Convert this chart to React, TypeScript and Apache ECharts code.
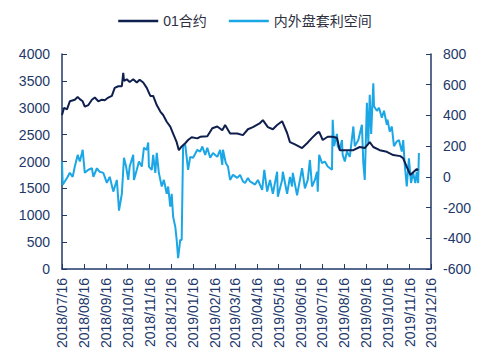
import React, { useEffect, useRef } from "react";
import * as echarts from "echarts";

const legendNames = ["01合约", "内外盘套利空间"];

const leftAxis = { min: 0, max: 4000, interval: 500 };
const rightAxis = { min: -600, max: 800, interval: 200 };

const mainDates = [
  "2018/07/16", "2018/07/19", "2018/07/23", "2018/07/27", "2018/08/03", "2018/08/07", "2018/08/10", "2018/08/14",
  "2018/08/17", "2018/08/22", "2018/08/27", "2018/08/31", "2018/09/05", "2018/09/10", "2018/09/14", "2018/09/19",
  "2018/09/24", "2018/09/28", "2018/10/03", "2018/10/08", "2018/10/10", "2018/10/11", "2018/10/15", "2018/10/19",
  "2018/10/24", "2018/10/29", "2018/11/02", "2018/11/07", "2018/11/12", "2018/11/17", "2018/11/21", "2018/11/26",
  "2018/12/01", "2018/12/05", "2018/12/10", "2018/12/15", "2018/12/19", "2018/12/24", "2018/12/27", "2018/12/31",
  "2019/01/05", "2019/01/09", "2019/01/14", "2019/01/22", "2019/01/26", "2019/02/05", "2019/02/12", "2019/02/19",
  "2019/02/26", "2019/03/02", "2019/03/09", "2019/03/19", "2019/03/27", "2019/04/03", "2019/04/10", "2019/04/20",
  "2019/04/24", "2019/05/01", "2019/05/08", "2019/05/14", "2019/05/21", "2019/05/28", "2019/06/01", "2019/06/08",
  "2019/06/18", "2019/06/25", "2019/07/02", "2019/07/09", "2019/07/12", "2019/07/17", "2019/07/24", "2019/07/30",
  "2019/08/06", "2019/08/10", "2019/08/20", "2019/08/29", "2019/09/07", "2019/09/14", "2019/09/21", "2019/09/26",
  "2019/10/05", "2019/10/15", "2019/10/24", "2019/11/03", "2019/11/07", "2019/11/12", "2019/11/17", "2019/11/21",
  "2019/11/26", "2019/11/28"
];
const mainValues = [
  2865, 3000, 2970, 3120, 3150, 3200, 3160, 3120,
  3020, 3050, 3150, 3190, 3120, 3150, 3140, 3190,
  3220, 3370, 3400, 3400, 3650, 3500, 3530, 3480,
  3530, 3470, 3520, 3470, 3370, 3220, 3220, 3050,
  2930, 2865, 2740, 2650, 2520, 2360, 2210, 2280,
  2340, 2400, 2450, 2430, 2460, 2470, 2620, 2650,
  2580, 2680, 2520, 2520, 2490, 2600, 2640, 2715,
  2770, 2640, 2600, 2680, 2750, 2530, 2360, 2320,
  2250, 2340, 2440, 2530, 2550, 2400, 2460, 2460,
  2440, 2210, 2210, 2210, 2270, 2250, 2360, 2270,
  2210, 2180, 2120, 2100, 2060, 1900, 1750, 1800,
  1860, 1840
];

const spreadDates = [
  "2018/07/16", "2018/07/17", "2018/07/23", "2018/07/27", "2018/07/31", "2018/08/03", "2018/08/07", "2018/08/10",
  "2018/08/13", "2018/08/14", "2018/08/17", "2018/08/22", "2018/08/27", "2018/08/29", "2018/09/03", "2018/09/07",
  "2018/09/12", "2018/09/17", "2018/09/21", "2018/09/26", "2018/10/01", "2018/10/03", "2018/10/04", "2018/10/08",
  "2018/10/11", "2018/10/14", "2018/10/17", "2018/10/19", "2018/10/24", "2018/10/25", "2018/10/29", "2018/11/01",
  "2018/11/05", "2018/11/08", "2018/11/12", "2018/11/14", "2018/11/15", "2018/11/19", "2018/11/21", "2018/11/24",
  "2018/11/26", "2018/11/29", "2018/12/03", "2018/12/06", "2018/12/10", "2018/12/12", "2018/12/15", "2018/12/17",
  "2018/12/19", "2018/12/22", "2018/12/24", "2018/12/26", "2018/12/29", "2018/12/31", "2019/01/02", "2019/01/05",
  "2019/01/09", "2019/01/12", "2019/01/16", "2019/01/22", "2019/01/26", "2019/01/29", "2019/02/02", "2019/02/05",
  "2019/02/09", "2019/02/13", "2019/02/19", "2019/02/23", "2019/02/26", "2019/02/27", "2019/03/03", "2019/03/06",
  "2019/03/09", "2019/03/13", "2019/03/19", "2019/03/23", "2019/03/27", "2019/03/30", "2019/04/03", "2019/04/06",
  "2019/04/13", "2019/04/17", "2019/04/23", "2019/04/26", "2019/04/30", "2019/05/04", "2019/05/08", "2019/05/14",
  "2019/05/15", "2019/05/21", "2019/05/22", "2019/05/28", "2019/06/01", "2019/06/04", "2019/06/05", "2019/06/11",
  "2019/06/15", "2019/06/18", "2019/06/22", "2019/06/26", "2019/06/29", "2019/07/02", "2019/07/06", "2019/07/09",
  "2019/07/10", "2019/07/12", "2019/07/16", "2019/07/20", "2019/07/24", "2019/07/30", "2019/07/31", "2019/08/02",
  "2019/08/06", "2019/08/07", "2019/08/10", "2019/08/13", "2019/08/14", "2019/08/17", "2019/08/20", "2019/08/24",
  "2019/08/29", "2019/08/31", "2019/09/05", "2019/09/10", "2019/09/12", "2019/09/14", "2019/09/17", "2019/09/19",
  "2019/09/21", "2019/09/23", "2019/09/26", "2019/09/27", "2019/10/01", "2019/10/04", "2019/10/08", "2019/10/11",
  "2019/10/15", "2019/10/16", "2019/10/19", "2019/10/22", "2019/10/25", "2019/10/29", "2019/11/01", "2019/11/05",
  "2019/11/07", "2019/11/09", "2019/11/12", "2019/11/15", "2019/11/18", "2019/11/21", "2019/11/24", "2019/11/26",
  "2019/11/28", "2019/11/29"
];
const spreadValues = [
  100, -52, -7, 26, 0, 67, 143, 100,
  156, 176, 26, 46, 56, 0, 56, 33,
  26, -39, 0, -96, -20, -150, -220, -110,
  124, 67, -20, 67, 143, -20, 46, 100,
  67, 190, 176, 224, 67, 46, 143, 26,
  156, 26, -63, -20, -110, -63, -194, -110,
  -260, -324, -411, -530, -411, -411, 198, 210,
  46, 130, 124, 176, 165, 198, 143, 190,
  124, 156, 130, 176, 78, 176, 89, 67,
  -20, 13, -7, 13, -30, -40, -7, -30,
  -50, -20, -85, 46, -96, -20, -110, 33,
  -130, -20, 33, -110, 0, -63, 26, -120,
  -20, 56, -75, -20, 110, -63, -20, 33,
  -96, 143, 89, 100, 67, 46, 372, 200,
  280, 200, 176, 240, 143, 100, 165, 130,
  328, 200, 240, 339, 89, -20, 482, 218,
  535, 280, 610, 460, 430, 450, 385, 430,
  339, 372, 295, 328, 200, 230, 240, 165,
  240, 89, -63, 120, -40, 26, -40, 33,
  -40, 156
];

const axisStart = [2018, 6, 16];
const axisEnd = [2019, 11, 16];

const NAVY = "#0f1f4e";
const LIGHT = "#1ba6e6";
const AXIS = "#22386a";
const FONT = 'Arial, "Liberation Sans", "Noto Sans CJK SC", sans-serif';

function buildCategories(): string[] {
  const out: string[] = [];
  const start = Date.UTC(axisStart[0], axisStart[1], axisStart[2]);
  const end = Date.UTC(axisEnd[0], axisEnd[1], axisEnd[2]);
  for (let t = start; t <= end; t += 86400000) {
    const d = new Date(t);
    const y = d.getUTCFullYear();
    const m = String(d.getUTCMonth() + 1).padStart(2, "0");
    const dd = String(d.getUTCDate()).padStart(2, "0");
    out.push(`${y}/${m}/${dd}`);
  }
  return out;
}

export default function App() {
  const ref = useRef<HTMLDivElement>(null);
  useEffect(() => {
    document.body.style.margin = "0";
    if (!ref.current) return;
    const chart = echarts.init(ref.current, null, { renderer: "svg" });
    const categories = buildCategories();
    const isMonthTick = (_i: number, v: string) => v.endsWith("/16");
    chart.setOption({
      animation: false,
      textStyle: { fontFamily: FONT },
      legend: {
        top: 9,
        left: "center",
        icon: "rect",
        itemWidth: 40,
        itemHeight: 2.5,
        itemGap: 22,
        textStyle: { fontSize: 14, color: "#2d2f3f", fontFamily: FONT },
        data: legendNames,
      },
      grid: { left: 62, right: 59, top: 54, bottom: 95, containLabel: false },
      xAxis: {
        type: "category",
        data: categories,
        boundaryGap: false,
        axisLine: { lineStyle: { color: AXIS, width: 1.5 } },
        axisTick: { inside: true, length: 5, interval: isMonthTick, lineStyle: { color: AXIS } },
        axisLabel: {
          interval: isMonthTick,
          rotate: 90,
          fontSize: 14,
          color: AXIS,
          margin: 9,
          fontFamily: FONT,
        },
        splitLine: { show: false },
      },
      yAxis: [
        {
          type: "value",
          min: leftAxis.min,
          max: leftAxis.max,
          interval: leftAxis.interval,
          axisLine: { show: true, lineStyle: { color: AXIS, width: 1.5 } },
          axisTick: { show: true, inside: true, length: 5, lineStyle: { color: AXIS } },
          axisLabel: { fontSize: 14, color: AXIS, margin: 12, fontFamily: FONT, formatter: (v: number) => String(v) },
          splitLine: { show: false },
        },
        {
          type: "value",
          min: rightAxis.min,
          max: rightAxis.max,
          interval: rightAxis.interval,
          position: "right",
          axisLine: { show: true, lineStyle: { color: AXIS, width: 1.5 } },
          axisTick: { show: true, inside: true, length: 5, lineStyle: { color: AXIS } },
          axisLabel: { fontSize: 14, color: AXIS, margin: 12, fontFamily: FONT, formatter: (v: number) => String(v) },
          splitLine: { show: false },
        },
      ],
      series: [
        {
          name: legendNames[0],
          type: "line",
          yAxisIndex: 0,
          symbol: "none",
          lineStyle: { color: NAVY, width: 2 },
          itemStyle: { color: NAVY },
          data: mainDates.map((d, i) => [d, mainValues[i]]),
          z: 3,
        },
        {
          name: legendNames[1],
          type: "line",
          yAxisIndex: 1,
          symbol: "none",
          lineStyle: { color: LIGHT, width: 2 },
          itemStyle: { color: LIGHT },
          data: spreadDates.map((d, i) => [d, spreadValues[i]]),
          z: 2,
        },
      ],
    });
    return () => chart.dispose();
  }, []);
  return <div ref={ref} style={{ width: 490, height: 364 }} />;
}
